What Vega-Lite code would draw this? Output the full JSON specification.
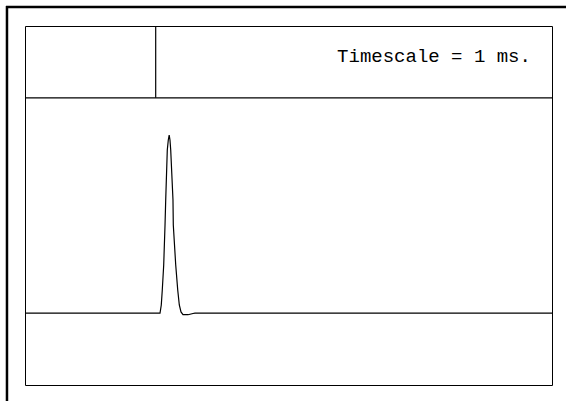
{
  "$schema": "https://vega.github.io/schema/vega-lite/v6.json",
  "width": 527,
  "height": 359,
  "autosize": {"type": "none"},
  "padding": {"left": 25, "top": 26, "right": 14, "bottom": 16},
  "background": "white",
  "config": {"view": {"stroke": "black", "strokeWidth": 1}, "axis": {"disable": true}},
  "datasets": {
    "outer": [
      {"x": -0.36, "x2": 10.6, "y": 4.265, "y2": 4.265},
      {"x": -0.342, "x2": -0.342, "y": -1.4, "y2": 4.28}
    ],
    "inner": [
      {"x": 0, "x2": 10, "y": 3, "y2": 3},
      {"x": 2.48, "x2": 2.48, "y": 3, "y2": 4}
    ],
    "signal": [
      {"t": 0, "v": 0},
      {"t": 2.562, "v": 0.0},
      {"t": 2.586, "v": 0.114},
      {"t": 2.605, "v": 0.323},
      {"t": 2.632, "v": 0.671},
      {"t": 2.657, "v": 1.228},
      {"t": 2.670, "v": 1.577},
      {"t": 2.700, "v": 2.273},
      {"t": 2.719, "v": 2.412},
      {"t": 2.736, "v": 2.482},
      {"t": 2.751, "v": 2.412},
      {"t": 2.765, "v": 2.273},
      {"t": 2.808, "v": 1.577},
      {"t": 2.814, "v": 1.228},
      {"t": 2.860, "v": 0.671},
      {"t": 2.898, "v": 0.323},
      {"t": 2.928, "v": 0.114},
      {"t": 2.960, "v": 0.017},
      {"t": 2.998, "v": -0.019},
      {"t": 3.093, "v": -0.021},
      {"t": 3.188, "v": -0.004},
      {"t": 3.226, "v": 0},
      {"t": 10, "v": 0}
    ],
    "label": [
      {"text": "Timescale = 1 ms.", "x": 9.6, "y": 3.5}
    ]
  },
  "layer": [
    {
      "data": {"name": "outer"},
      "mark": {"type": "rule", "color": "black", "strokeWidth": 2.5},
      "encoding": {
        "x": {"field": "x", "type": "quantitative", "scale": {"domain": [0, 10], "nice": false, "zero": false}, "axis": null},
        "x2": {"field": "x2"},
        "y": {"field": "y", "type": "quantitative", "scale": {"domain": [-1, 4], "nice": false, "zero": false}, "axis": null},
        "y2": {"field": "y2"}
      }
    },
    {
      "data": {"name": "inner"},
      "mark": {"type": "rule", "color": "black", "strokeWidth": 1.2},
      "encoding": {
        "x": {"field": "x", "type": "quantitative", "axis": null},
        "x2": {"field": "x2"},
        "y": {"field": "y", "type": "quantitative", "axis": null},
        "y2": {"field": "y2"}
      }
    },
    {
      "data": {"name": "signal"},
      "mark": {"type": "line", "color": "black", "strokeWidth": 1.2},
      "encoding": {
        "x": {"field": "t", "type": "quantitative", "axis": null},
        "y": {"field": "v", "type": "quantitative", "axis": null}
      }
    },
    {
      "data": {"name": "label"},
      "mark": {"type": "text", "align": "right", "baseline": "alphabetic", "font": "Liberation Mono", "fontSize": 19, "color": "black"},
      "encoding": {
        "x": {"field": "x", "type": "quantitative", "axis": null},
        "y": {"field": "y", "type": "quantitative", "axis": null},
        "text": {"field": "text"}
      }
    }
  ],
  "resolve": {"scale": {"x": "shared", "y": "shared"}}
}
